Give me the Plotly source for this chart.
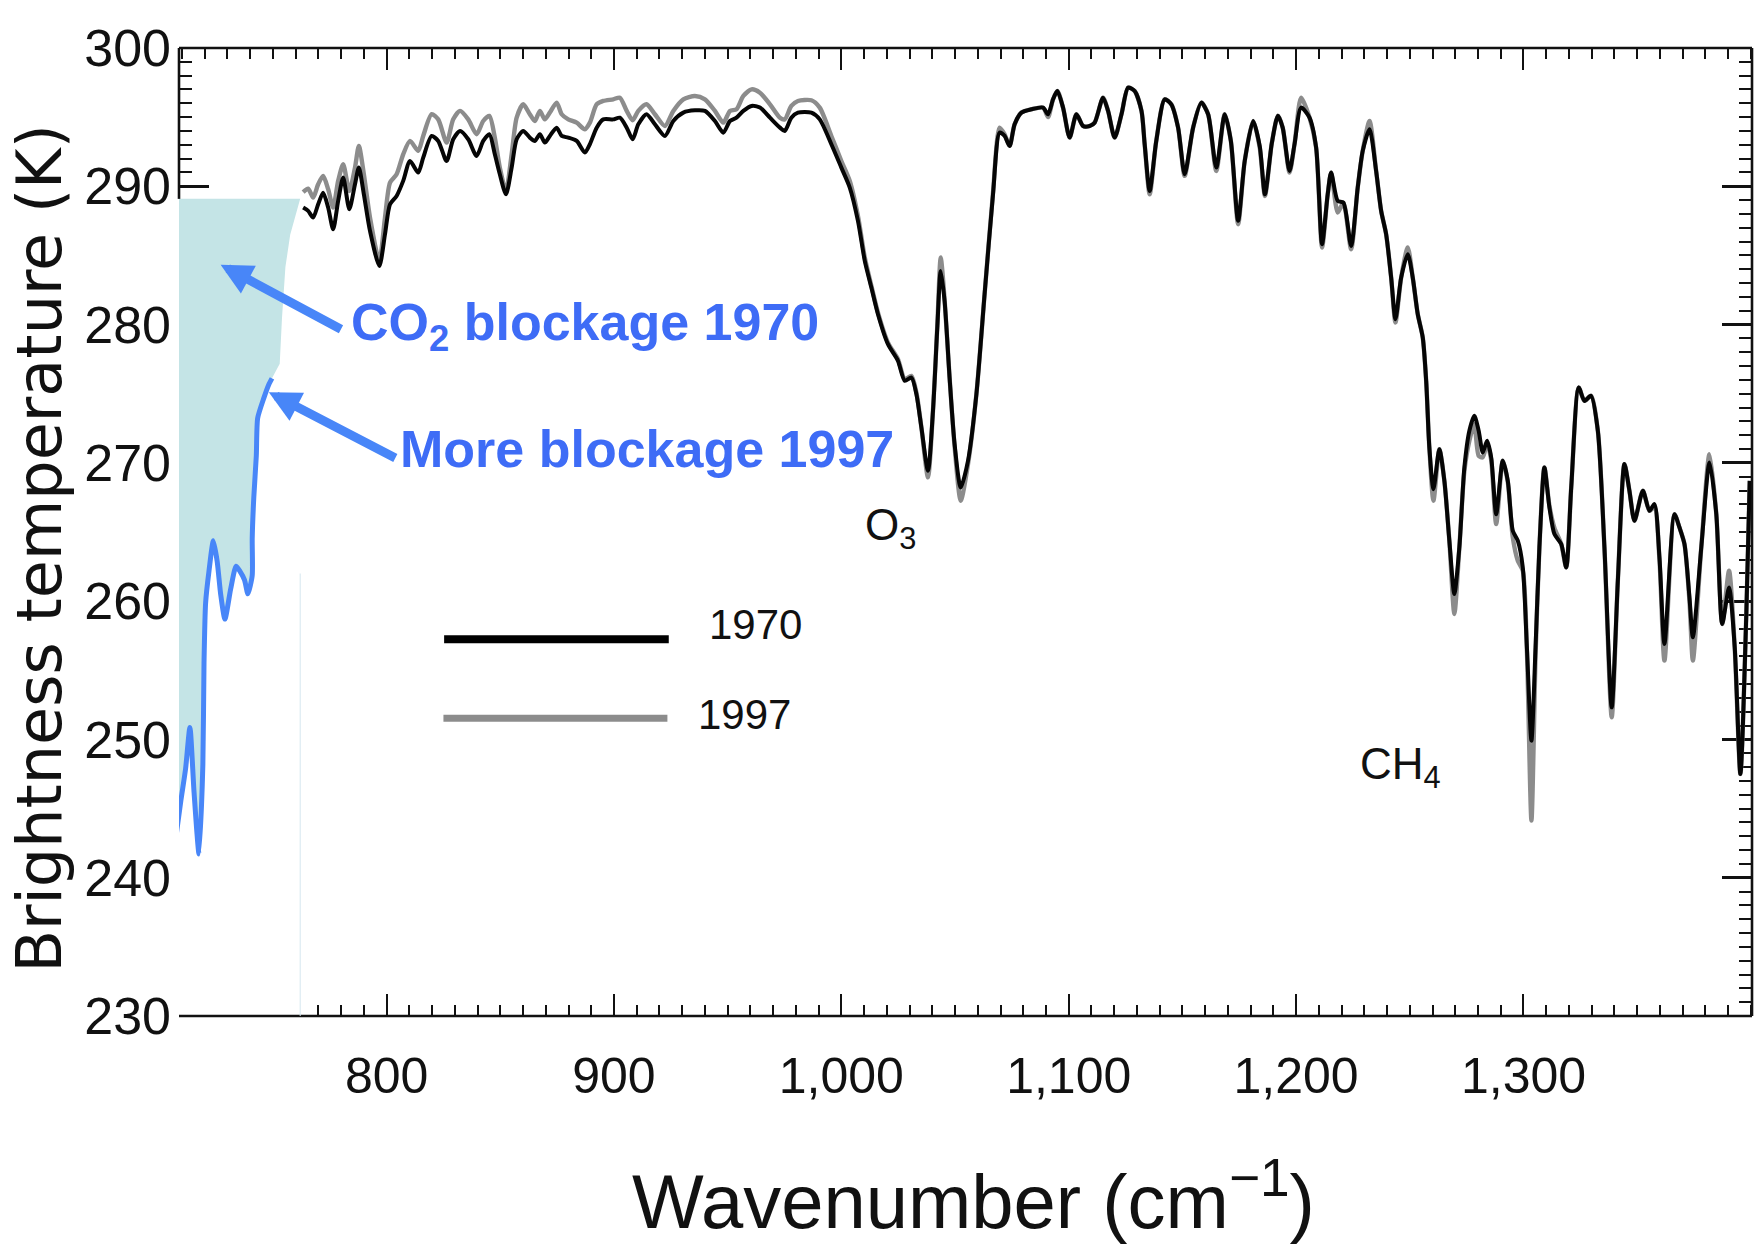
import plotly.graph_objects as go

# ---------------- data ----------------
# 1970 spectrum (black)
wn_1970 = [763.3, 765.5, 767.7, 769.9, 772.1, 774.3, 776.5, 778.7, 780.9, 783.6, 786.1, 787.8, 790.0, 792.7,
           796.8, 799.3, 801.5, 804.4, 807.3, 810.3, 813.9, 816.1, 819.8, 822.7, 826.4, 829.3, 832.3, 835.9,
           839.6, 842.5, 845.2, 847.6, 849.8, 852.5, 855.0, 857.2, 860.1, 863.0, 865.2, 867.4, 869.6, 871.8,
           874.8, 877.0, 879.9, 883.6, 887.2, 889.4, 892.4, 895.3, 899.7, 902.6, 905.6, 908.2, 910.7, 914.3,
           918.0, 922.4, 926.1, 930.5, 935.6, 940.0, 944.4, 948.1, 951.0, 953.9, 956.9, 960.5, 964.2, 968.6,
           973.0, 975.1, 978.0, 980.9, 986.8, 990.5, 995.6, 1000.0, 1003.7, 1007.3, 1010.3, 1013.2, 1016.1,
           1020.5, 1024.9, 1027.9, 1030.8, 1033.0, 1035.2, 1038.1, 1040.3, 1042.2, 1043.7, 1045.4, 1047.6,
           1049.8, 1052.5, 1055.7, 1059.4, 1063.0, 1066.7, 1069.6, 1071.8, 1074.0, 1076.2, 1079.2, 1083.6,
           1088.7, 1090.9, 1093.1, 1095.0, 1097.5, 1100.4, 1103.4, 1106.3, 1109.2, 1111.4, 1115.1, 1117.3,
           1120.2, 1123.2, 1126.1, 1129.0, 1132.0, 1133.4, 1135.6, 1138.5, 1142.2, 1145.1, 1148.1, 1151.0,
           1154.7, 1158.3, 1161.3, 1164.9, 1168.6, 1171.3, 1174.5, 1177.4, 1181.1, 1184.0, 1186.3, 1189.3,
           1192.0, 1194.1, 1197.1, 1199.3, 1202.2, 1205.9, 1208.8, 1211.4, 1213.9, 1215.4, 1218.3, 1220.8,
           1224.2, 1227.1, 1229.3, 1232.3, 1235.2, 1237.4, 1239.6, 1241.8, 1243.7, 1246.2, 1249.1, 1251.3,
           1253.5, 1255.7, 1257.2, 1258.6, 1260.4, 1263.0, 1265.2, 1267.4, 1269.6, 1271.8, 1274.0, 1276.2,
           1278.4, 1280.3, 1282.1, 1284.0, 1285.8, 1288.0, 1290.9, 1293.1, 1295.3, 1297.5, 1299.7, 1301.5,
           1303.5, 1305.3, 1307.0, 1309.2, 1311.4, 1313.6, 1316.6, 1318.8, 1321.0, 1324.3, 1326.8, 1329.7,
           1332.7, 1335.6, 1338.8, 1341.5, 1344.4, 1346.6, 1348.8, 1352.5, 1355.4, 1357.6, 1359.8, 1362.0,
           1366.4, 1368.6, 1370.8, 1373.0, 1374.5, 1378.2, 1381.8, 1384.8, 1387.4, 1390.4, 1392.9, 1395.4,
           1398.0, 1399.5]
bt_1970 = [288.46, 288.22, 287.74, 288.70, 289.54, 288.46, 286.89, 288.94, 290.63, 288.34, 290.15, 291.35, 289.42, 286.77,
           284.24, 286.53, 288.70, 289.30, 290.39, 291.83, 290.99, 292.07, 293.64, 293.28, 291.83, 293.40, 294.00, 293.40,
           292.19, 293.28, 293.76, 292.31, 290.87, 289.42, 291.35, 293.40, 294.00, 293.52, 293.28, 293.76, 293.16, 293.64,
           294.24, 293.64, 293.52, 293.28, 292.44, 293.04, 294.24, 294.84, 294.84, 294.96, 294.24, 293.40, 294.48, 295.21,
           294.48, 293.64, 294.72, 295.33, 295.49, 295.45, 294.72, 293.88, 294.72, 294.96, 295.45, 295.81, 295.69, 294.96,
           294.24, 294.00, 294.96, 295.33, 295.33, 294.84, 293.04, 291.35, 289.91, 287.50, 284.61, 282.68, 280.75,
           278.58, 277.38, 275.93, 276.17, 274.97, 272.56, 269.43, 273.76, 279.79, 283.88, 281.71, 276.17,
           271.36, 268.22, 270.15, 274.97, 282.20, 289.42, 293.88, 293.64, 292.92, 294.48, 295.33, 295.57,
           295.69, 295.21, 296.29, 296.89, 295.69, 293.52, 295.21, 294.36, 294.36, 294.60, 296.41, 295.45,
           293.52, 295.21, 297.13, 296.89, 295.45, 293.04, 289.66, 293.28, 296.29, 295.93, 294.24, 290.87,
           294.24, 296.05, 295.21, 291.35, 295.21, 293.28, 287.50, 291.83, 294.72, 292.90, 289.42, 293.10,
           295.10, 294.24, 291.11, 293.04, 295.69, 294.96, 292.80, 285.81, 289.42, 290.99, 288.94, 288.82,
           285.69, 289.91, 292.56, 294.12, 291.11, 288.22, 286.53, 283.40, 280.39, 283.40, 285.09, 283.40,
           280.75, 279.06, 275.93, 271.11, 268.10, 270.99, 268.70, 264.37, 260.51, 263.89, 269.67, 272.32,
           273.40, 272.32, 270.75, 271.59, 270.39, 266.29, 270.15, 268.70, 265.09, 264.37, 262.44, 256.66,
           249.91, 256.66, 263.89, 269.67, 266.78, 264.85, 264.13, 262.44, 268.22, 275.45, 274.48, 274.85,
           272.32, 263.89, 252.32, 261.48, 269.91, 267.98, 265.81, 267.98, 266.53, 267.02, 263.16, 256.90,
           266.29, 265.33, 264.13, 260.27, 257.38, 263.89, 270.03, 266.29, 258.34, 260.99, 256.66, 247.50,
           259.07, 268.70]

# 1997 spectrum (grey)
wn_1997 = list(wn_1970)
bt_1997 = [289.58, 289.83, 289.18, 290.15, 290.75, 289.79, 288.46, 290.39, 291.59, 289.66, 291.35, 292.92, 290.87, 287.74,
           284.61, 287.74, 290.27, 290.87, 292.31, 293.28, 292.56, 293.64, 295.21, 294.84, 293.16, 294.84, 295.45, 294.84,
           293.76, 294.72, 295.09, 293.52, 291.35, 289.66, 292.31, 294.96, 295.93, 295.21, 294.72, 295.45, 294.84, 295.33,
           296.05, 295.21, 294.84, 294.60, 294.12, 294.60, 295.93, 296.17, 296.29, 296.41, 295.45, 294.77, 295.45, 295.93,
           295.21, 294.36, 295.45, 296.29, 296.53, 296.29, 295.45, 294.60, 295.45, 295.57, 296.53, 297.01, 296.77, 295.93,
           294.96, 294.84, 295.81, 296.17, 296.22, 295.69, 293.64, 291.83, 290.39, 287.86, 284.85, 282.80, 280.87,
           278.70, 277.50, 276.05, 276.29, 275.09, 272.56, 268.95, 273.76, 279.91, 284.85, 281.83, 276.17,
           271.20, 267.26, 269.90, 274.97, 282.20, 289.54, 294.24, 293.76, 292.92, 294.48, 295.33, 295.57,
           295.69, 295.00, 296.29, 296.89, 295.69, 293.52, 295.21, 294.36, 294.36, 294.60, 296.41, 295.45,
           293.52, 295.21, 297.13, 296.89, 295.45, 293.04, 289.42, 293.28, 296.29, 295.93, 294.24, 290.75,
           294.24, 296.05, 295.21, 291.11, 295.21, 293.28, 287.26, 291.83, 294.72, 292.80, 289.30, 293.10,
           295.10, 294.24, 290.99, 293.04, 296.40, 294.96, 292.80, 285.57, 289.42, 290.99, 288.10, 288.82,
           285.45, 289.91, 292.56, 294.72, 291.11, 288.22, 286.53, 283.40, 280.15, 283.40, 285.57, 283.40,
           280.75, 279.06, 275.93, 271.11, 267.26, 270.99, 268.70, 264.37, 259.07, 263.89, 269.40, 271.60,
           272.80, 270.50, 270.40, 271.40, 270.20, 265.57, 270.15, 268.60, 264.60, 262.92, 262.20, 256.40,
           244.13, 256.00, 263.89, 269.67, 266.90, 265.30, 264.13, 262.44, 268.22, 275.45, 274.48, 274.85,
           272.32, 263.89, 251.60, 261.48, 269.91, 267.98, 265.81, 267.98, 266.53, 266.80, 263.00, 255.70,
           266.29, 265.33, 264.13, 260.00, 255.70, 263.89, 270.63, 266.29, 258.34, 262.20, 256.66, 247.50,
           259.07, 268.70]

# CO2 band: 1997 curve (blue) and the 1970 blockage edge (cyan area)
wn_co2_1997 = [707.3, 709.5, 711.6, 713.5, 715.3, 717.5, 719.2, 719.7, 720.4, 721.9, 723.8, 725.5, 727.0, 728.9,
               731.4, 733.8, 735.4, 737.5, 739.0, 740.9, 740.9, 741.6, 742.7, 743.3, 746.0, 748.2, 749.6]
bt_co2_1997 = [242.89, 245.55, 247.88, 250.87, 246.22, 241.72, 248.21, 255.53, 259.86, 262.19, 264.36, 262.86, 260.53, 258.70,
               260.86, 262.53, 262.19, 261.53, 260.53, 261.86, 264.52, 267.52, 270.52, 273.24, 274.68, 275.67, 276.11]
wn_co2_1970_edge = [707.0, 762.0, 757.6, 755.5, 754.0, 753.0]
bt_co2_1970_edge = [289.09, 289.09, 286.49, 284.16, 280.50, 277.17]

x_ticks = [800, 900, 1000, 1100, 1200, 1300]
y_ticks = [230, 240, 250, 260, 270, 280, 290, 300]

# ---------------- styling constants ----------------
BLUE_LINE = "#4886f8"
BLUE_TEXT = "#3e6cf6"
CYAN = "#c4e4e6"
GREY = "#8c8c8c"
SANS = "Liberation Sans, Arial, Helvetica, sans-serif"

fig = go.Figure()

# white mask over the CO2 band (hides axis ticks there)
fig.add_trace(go.Scatter(x=[700, 762, 762, 700], y=[225, 225, 289.09, 289.09], fill="toself",
                         fillcolor="white", line=dict(width=0), mode="lines", hoverinfo="skip"))

# cyan 1970 blockage area: bounded by the 1970 edge and the 1997 blue curve
poly_x = wn_co2_1970_edge + wn_co2_1997[::-1]
poly_y = bt_co2_1970_edge + bt_co2_1997[::-1]
fig.add_trace(go.Scatter(x=poly_x, y=poly_y, fill="toself", fillcolor=CYAN,
                         line=dict(width=0), mode="lines", hoverinfo="skip"))

# blue 1997 curve in the CO2 band
fig.add_trace(go.Scatter(x=wn_co2_1997, y=bt_co2_1997, mode="lines",
                         line=dict(color=BLUE_LINE, width=5, shape="spline", smoothing=0.6), name="1997 CO2"))

# 1997 grey and 1970 black spectra
fig.add_trace(go.Scatter(x=wn_1997, y=bt_1997, mode="lines",
                         line=dict(color=GREY, width=4.4, shape="spline", smoothing=0.7), name="1997"))
fig.add_trace(go.Scatter(x=wn_1970, y=bt_1970, mode="lines",
                         line=dict(color="#050505", width=4.0, shape="spline", smoothing=0.7), name="1970"))

axis_common = dict(showline=False, showgrid=False, zeroline=False, mirror="allticks",
                   ticks="inside", tickcolor="#111111", layer="below traces")

fig.update_layout(
    width=1754, height=1252,
    margin=dict(l=179, r=2, t=48, b=236),
    paper_bgcolor="white", plot_bgcolor="white",
    showlegend=False,
    xaxis=dict(range=[708.7, 1400.5], tickmode="array", tickvals=x_ticks,
               ticktext=[f"{v:,}" for v in x_ticks],
               ticklen=22, tickwidth=2,
               tickfont=dict(family=SANS, size=50, color="#111111"),
               ticklabelstandoff=26,
               minor=dict(dtick=10, tick0=800, ticks="inside", ticklen=11, tickwidth=1.6,
                          tickcolor="#111111", showgrid=False),
               **axis_common),
    yaxis=dict(range=[230, 300], tickmode="array", tickvals=y_ticks,
               ticklen=30, tickwidth=2.5,
               tickfont=dict(family=SANS, size=52, color="#111111"),
               ticklabelstandoff=7,
               minor=dict(dtick=1, tick0=230, ticks="inside", ticklen=13, tickwidth=2.2,
                          tickcolor="#111111", showgrid=False),
               **axis_common),
)

# frame lines (left line only above the blockage area)
frame = dict(color="#111111", width=2.6)
fig.add_shape(type="line", xref="paper", yref="paper", x0=0, x1=1, y0=1, y1=1, line=frame, layer="above")
fig.add_shape(type="line", xref="paper", yref="paper", x0=0, x1=1, y0=0, y1=0, line=frame, layer="above")
fig.add_shape(type="line", xref="paper", yref="paper", x0=1, x1=1, y0=0, y1=1, line=frame, layer="above")
fig.add_shape(type="line", xref="paper", yref="y", x0=0, x1=0, y0=289.09, y1=300, line=frame, layer="above")
# faint edge of the mask
fig.add_shape(type="line", xref="x", yref="y", x0=762, x1=762, y0=230, y1=262,
              line=dict(color="#d6e7ef", width=1), layer="above")

# legend lines
fig.add_shape(type="line", xref="x", yref="y", x0=825.3, x1=924.1, y0=257.24, y1=257.24,
              line=dict(color="#000000", width=8), layer="above")
fig.add_shape(type="line", xref="x", yref="y", x0=825.0, x1=923.5, y0=251.53, y1=251.53,
              line=dict(color=GREY, width=7), layer="above")
fig.add_annotation(x=941.1, y=258.33, xref="x", yref="y", text="1970", showarrow=False,
                   xanchor="left", yanchor="middle", font=dict(family=SANS, size=42, color="#111111"))
fig.add_annotation(x=936.2, y=251.82, xref="x", yref="y", text="1997", showarrow=False,
                   xanchor="left", yanchor="middle", font=dict(family=SANS, size=42, color="#111111"))

# gas labels
fig.add_annotation(x=1009.7, y=265.3, xref="x", yref="y", text="O<sub>3</sub>", showarrow=False,
                   xanchor="left", yanchor="middle", font=dict(family=SANS, size=44, color="#111111"))
fig.add_annotation(x=1227.3, y=248.0, xref="x", yref="y", text="CH<sub>4</sub>", showarrow=False,
                   xanchor="left", yanchor="middle", font=dict(family=SANS, size=44, color="#111111"))

# blue arrows and labels
fig.add_annotation(x=727.0, y=284.33, ax=780.6, ay=279.6, xref="x", yref="y", axref="x", ayref="y",
                   text="", showarrow=True, arrowhead=2, arrowsize=0.7, arrowwidth=9,
                   arrowcolor=BLUE_LINE, standoff=0, startstandoff=0)
fig.add_annotation(x=748.2, y=275.1, ax=804.5, ay=270.3, xref="x", yref="y", axref="x", ayref="y",
                   text="", showarrow=True, arrowhead=2, arrowsize=0.7, arrowwidth=9,
                   arrowcolor=BLUE_LINE, standoff=0, startstandoff=0)
fig.add_annotation(x=783.4, y=279.9, xref="x", yref="y", text="<b>CO<sub>2</sub> blockage 1970</b>",
                   showarrow=False, xanchor="left", yanchor="middle",
                   font=dict(family=SANS, size=52, color=BLUE_TEXT))
fig.add_annotation(x=805.1, y=271.0, xref="x", yref="y", text="<b>More blockage 1997</b>",
                   showarrow=False, xanchor="left", yanchor="middle",
                   font=dict(family=SANS, size=52, color=BLUE_TEXT))

# axis titles
fig.add_annotation(x=-0.089, y=0.483, xref="paper", yref="paper", text="Brightness temperature (K)",
                   showarrow=False, textangle=-90, xanchor="center", yanchor="middle",
                   font=dict(family="DejaVu Sans, sans-serif", size=62, color="#111111"))
fig.add_annotation(x=0.5048, y=-0.186, xref="paper", yref="paper", text="Wavenumber (cm<sup>−1</sup>)",
                   showarrow=False, xanchor="center", yanchor="middle",
                   font=dict(family=SANS, size=76, color="#111111"))

fig.write_html("out.html")
